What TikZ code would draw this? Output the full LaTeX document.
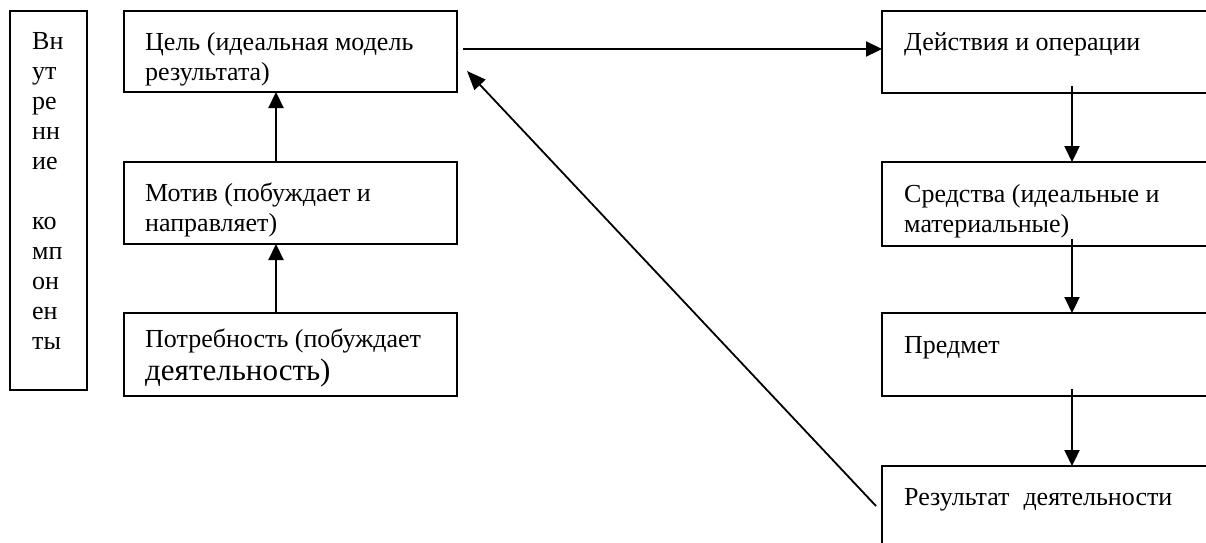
\documentclass[tikz,border=0pt]{standalone}
\usepackage{fontspec}
\setmainfont{Liberation Serif}
\usetikzlibrary{arrows.meta}
\begin{document}
\begin{tikzpicture}[x=1pt,y=-1pt,
  box/.style={draw, line width=2pt, inner sep=0pt, outer sep=0pt, anchor=north west},
  lbl/.style={anchor=base west, inner sep=0pt, font=\fontsize{26}{30}\selectfont},
  arr/.style={line width=2.2pt, -{Triangle[length=16pt,width=15pt]}},
  darr/.style={line width=1.8pt, -{Triangle[length=19pt,width=15pt]}}]
\useasboundingbox (0,0) rectangle (1206,542);
\clip (0,0) rectangle (1206,542);
% left column boxes
\node[box, minimum width=77pt, minimum height=379pt] (vn) at (10,11) {};
\node[box, minimum width=333pt, minimum height=81pt] (cel) at (124,11) {};
\node[box, minimum width=333pt, minimum height=82pt] (mot) at (124,162) {};
\node[box, minimum width=333pt, minimum height=83pt] (pot) at (124,313) {};
% right column boxes
\node[box, minimum width=400pt, minimum height=82pt] (dei) at (882,11) {};
\node[box, minimum width=400pt, minimum height=84pt] (sred) at (882,162) {};
\node[box, minimum width=400pt, minimum height=83pt] (pred) at (882,313) {};
\node[box, minimum width=400pt, minimum height=120pt] (res) at (882,466) {};
% vertical label
\node[lbl] (v1) at (32,49) {Вн};
\node[lbl] (v2) at (32,79) {ут};
\node[lbl] (v3) at (32,109) {ре};
\node[lbl] (v4) at (32,139) {нн};
\node[lbl] (v5) at (32,169) {ие};
\node[lbl] (v6) at (32,229) {ко};
\node[lbl] (v7) at (32,259) {мп};
\node[lbl] (v8) at (32,289) {он};
\node[lbl] (v9) at (32,319) {ен};
\node[lbl] (v10) at (32,349) {ты};
% left texts
\node[lbl] (t1) at (145,50) {Цель (идеальная модель};
\node[lbl] (t2) at (145,80) {результата)};
\node[lbl] (t3) at (145,201) {Мотив (побуждает и};
\node[lbl] (t4) at (145,231) {направляет)};
\node[lbl] (t5) at (145,347) {Потребность (побуждает};
\node[lbl, font=\fontsize{31}{36}\selectfont] (t6) at (145,380) {деятельность)};
% right texts
\node[lbl] (r1) at (904,50) {Действия и операции};
\node[lbl] (r2) at (904,202) {Средства (идеальные и};
\node[lbl] (r3) at (904,232) {материальные)};
\node[lbl] (r4) at (904,353) {Предмет};
\node[lbl] (r5) at (904,505) {Результат\hspace{14pt}деятельности};
% arrows left
\draw[arr] ([xshift=152pt]mot.north west) -- ([xshift=152pt]cel.south west);
\draw[arr] ([xshift=152pt]pot.north west) -- ([xshift=152pt]mot.south west);
% arrows right
\draw[arr] ([xshift=190pt,yshift=7pt]dei.south west) -- ([xshift=190pt]sred.north west);
\draw[arr] ([xshift=190pt,yshift=7pt]sred.south west) -- ([xshift=190pt]pred.north west);
\draw[arr] ([xshift=190pt,yshift=7pt]pred.south west) -- ([xshift=190pt]res.north west);
% horizontal arrow
\draw[arr] ([xshift=6pt,yshift=-38pt]cel.north east) -- ([yshift=-38pt]dei.north west);
% diagonal feedback arrow
\draw[darr] ([xshift=-6pt,yshift=-40pt]res.north west) -- ([xshift=10pt,yshift=-60pt]cel.north east);
\end{tikzpicture}
\end{document}
